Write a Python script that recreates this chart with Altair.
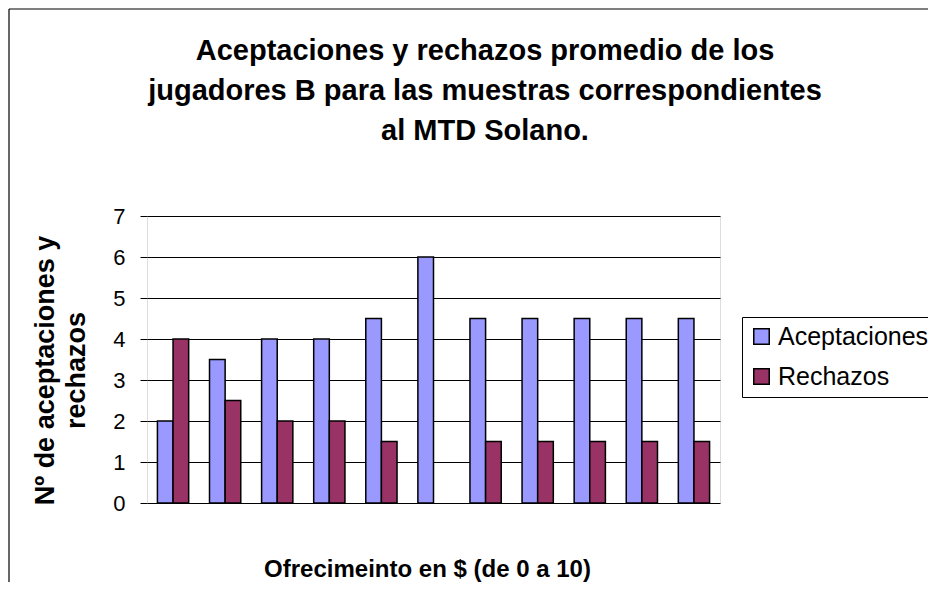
import altair as alt
import pandas as pd

categorias = ["0", "1", "2", "3", "4", "5", "6", "7", "8", "9", "10"]
aceptaciones = [2, 3.5, 4, 4, 4.5, 6, 4.5, 4.5, 4.5, 4.5, 4.5]
rechazos = [4, 2.5, 2, 2, 1.5, 0, 1.5, 1.5, 1.5, 1.5, 1.5]
series = ["Aceptaciones", "Rechazos"]
colores = ["#9999FF", "#993366"]
titulo = ["Aceptaciones y rechazos promedio de los",
          "jugadores B para las muestras correspondientes",
          "al MTD Solano."]
titulo_y = ["Nº de aceptaciones y", "rechazos"]
titulo_x = "Ofrecimeinto en $ (de 0 a 10)"

rows = []
for i, c in enumerate(categorias):
    rows.append({"cat": c, "serie": series[0], "valor": aceptaciones[i]})
    rows.append({"cat": c, "serie": series[1], "valor": rechazos[i]})
df = pd.DataFrame(rows)

FONT = "Liberation Sans"

bars = alt.Chart(df).transform_filter("datum.valor > 0").mark_bar(
    stroke="black", strokeWidth=1.5).encode(
    x=alt.X("cat:N", sort=categorias,
            scale=alt.Scale(domain=categorias, paddingInner=0.4, paddingOuter=0.2),
            axis=alt.Axis(labels=False, ticks=False, domain=False,
                          title=titulo_x, titleFontSize=24, titleFont=FONT,
                          titleFontWeight="bold", titleColor="black",
                          titleX=280, titleY=73, titleBaseline="alphabetic")),
    xOffset=alt.XOffset("serie:N", sort=series, scale=alt.Scale(domain=series)),
    y=alt.Y("valor:Q", scale=alt.Scale(domain=[0, 7], nice=False),
            axis=alt.Axis(values=[0, 1, 2, 3, 4, 5, 6, 7], grid=True,
                          gridColor="black", gridWidth=1, gridOpacity=1,
                          domain=False, tickColor="black", tickSize=7,
                          tickWidth=1, labelFontSize=22, labelFont=FONT,
                          labelColor="black", labelPadding=15,
                          title=titulo_y, titleFontSize=27, titleFont=FONT,
                          titleFontWeight="bold", titleColor="black",
                          titleAngle=270, titleX=-115, titleY=154,
                          titleBaseline="top", titleAlign="center",
                          titleLineHeight=31)),
    color=alt.Color("serie:N", sort=series,
                    scale=alt.Scale(domain=series, range=colores),
                    legend=alt.Legend(title=None, orient="none",
                                      legendX=595, legendY=101,
                                      strokeColor="black", fillColor="white",
                                      padding=7, symbolType="square",
                                      symbolSize=240, symbolStrokeColor="black",
                                      symbolStrokeWidth=1.5, symbolOpacity=1,
                                      labelFontSize=25, labelFont=FONT,
                                      labelColor="black", labelOffset=4,
                                      rowPadding=14, labelLimit=400)),
)

frame_df = pd.DataFrame({"a": [0]})
left_line = alt.Chart(frame_df).mark_rule(color="black", strokeWidth=1.2).encode(
    x=alt.value(-138), y=alt.value(-207), y2=alt.value(400))
top_line = alt.Chart(frame_df).mark_rule(color="black", strokeWidth=1.2).encode(
    x=alt.value(-138), x2=alt.value(800), y=alt.value(-207))
title_text = alt.Chart(frame_df).mark_text(
    text=titulo, font=FONT, fontSize=29, fontWeight="bold", color="black",
    align="center", baseline="top", lineHeight=40).encode(
    x=alt.value(338), y=alt.value(-179))

chart = alt.layer(bars, left_line, top_line, title_text).properties(
    width=573, height=287,
    padding={"left": 139, "top": 208, "right": 208, "bottom": 79},
    autosize=alt.AutoSizeParams(type="none"),
).configure_view(
    fill="#C0C0C0", stroke="#808080", strokeWidth=2
).configure(background="white")

chart.save("out.html", embed_options={"renderer": "svg", "actions": False})
